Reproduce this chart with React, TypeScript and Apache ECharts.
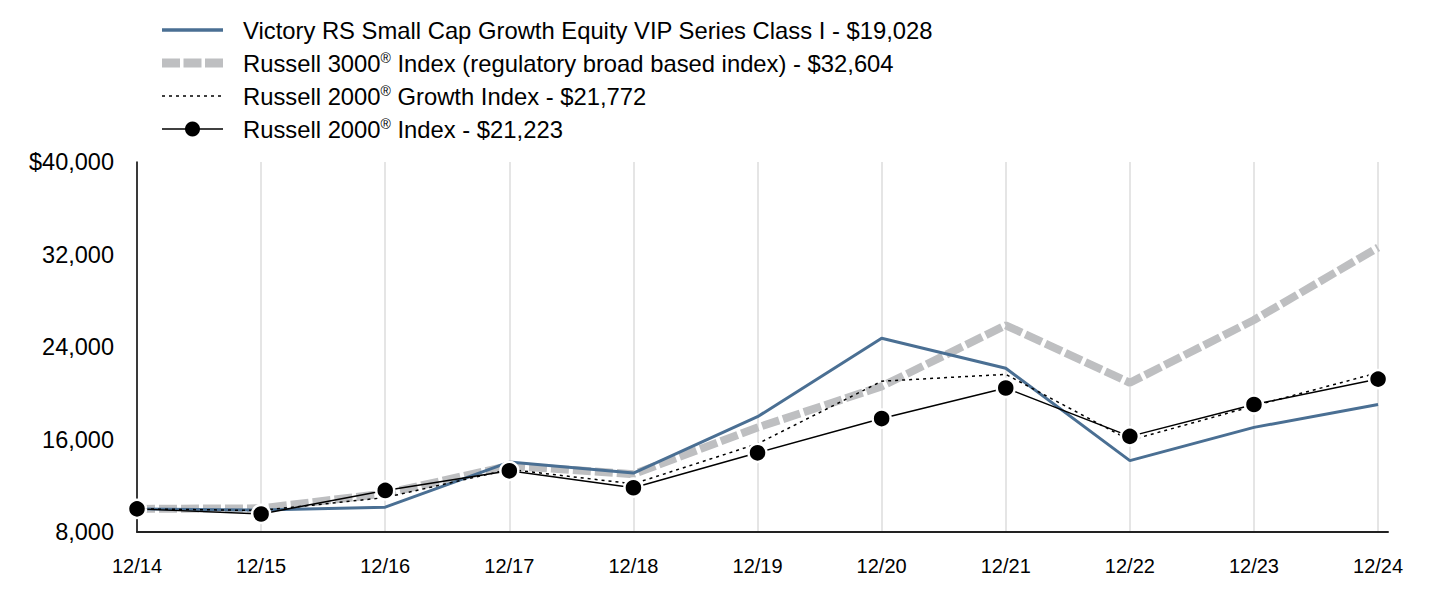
import React, { useEffect, useRef } from "react";
import * as echarts from "echarts";

const categories = ["12/14", "12/15", "12/16", "12/17", "12/18", "12/19", "12/20", "12/21", "12/22", "12/23", "12/24"];
const victory = [10000, 9900, 10150, 14050, 13100, 17970, 24750, 22160, 14170, 17050, 19028];
const russell3000 = [10000, 10048, 11328, 13722, 13003, 17036, 20595, 25880, 20908, 26336, 32604];
const russell2000Growth = [10000, 9862, 10979, 13413, 12164, 15628, 21040, 21636, 15932, 18905, 21772];
const russell2000 = [10000, 9559, 11594, 13293, 11829, 14848, 17811, 20451, 16271, 19026, 21223];
const yTicks = [8000, 16000, 24000, 32000, 40000];

const legendNames = [
  "Victory RS Small Cap Growth Equity VIP Series Class I - $19,028",
  "Russell 3000{sup|®} Index (regulatory broad based index) - $32,604",
  "Russell 2000{sup|®} Growth Index - $21,772",
  "Russell 2000{sup|®} Index - $21,223",
];

const BLUE = "#4a6f93";
const GRAY = "#bebfc1";
const FONT = "'Liberation Sans', Arial, sans-serif";

const toPairs = (arr: number[]) => arr.map((v, i) => [i, v]);

export default function App() {
  const ref = useRef<HTMLDivElement>(null);
  useEffect(() => {
    if (!ref.current) return;
    const chart = echarts.init(ref.current, null, { renderer: "svg" });
    const legendX = 162;
    const legendW = 61;
    const textX = 243;
    const rowsY = [30, 63, 96, 129];
    const legendGraphics: any[] = [];
    legendGraphics.push({ type: "line", shape: { x1: legendX, y1: rowsY[0], x2: legendX + legendW, y2: rowsY[0] }, style: { stroke: BLUE, lineWidth: 3.5 } });
    legendGraphics.push({ type: "line", shape: { x1: legendX, y1: rowsY[1], x2: legendX + legendW, y2: rowsY[1] }, style: { stroke: GRAY, lineWidth: 9, lineDash: [18, 3.5] } });
    legendGraphics.push({ type: "line", shape: { x1: legendX, y1: rowsY[2], x2: legendX + legendW, y2: rowsY[2] }, style: { stroke: "#000", lineWidth: 1.5, lineDash: [3, 4] } });
    legendGraphics.push({ type: "line", shape: { x1: legendX, y1: rowsY[3], x2: legendX + legendW, y2: rowsY[3] }, style: { stroke: "#000", lineWidth: 1.5 } });
    legendGraphics.push({ type: "circle", shape: { cx: legendX + legendW / 2, cy: rowsY[3], r: 7.5 }, style: { fill: "#000" } });
    legendNames.forEach((name, i) => {
      legendGraphics.push({
        type: "text",
        x: textX,
        y: rowsY[i],
        style: {
          text: name,
          fill: "#000",
          fontSize: 23.8,
          fontFamily: FONT,
          verticalAlign: "middle",
          align: "left",
          rich: { sup: { fontSize: 14, fontFamily: FONT, verticalAlign: "top", fill: "#000" } },
        },
      });
    });

    const splitColors = categories.map(() => "#dddddd").concat(["rgba(0,0,0,0)"]);

    chart.setOption({
      animation: false,
      grid: { left: 137, right: 48, top: 162, bottom: 66, containLabel: false },
      xAxis: {
        type: "value",
        min: 0,
        max: 10.08,
        interval: 1,
        axisLine: { show: true, lineStyle: { color: "#222", width: 2 } },
        axisTick: { show: false },
        splitLine: { show: true, lineStyle: { color: splitColors, width: 1.5 } },
        axisLabel: {
          margin: 24,
          fontSize: 20,
          fontFamily: FONT,
          color: "#000",
          showMaxLabel: false,
          formatter: (v: number) => {
            const i = Math.round(v);
            return Math.abs(v - i) < 1e-6 && categories[i] ? categories[i] : "";
          },
        },
      },
      yAxis: {
        type: "value",
        min: yTicks[0],
        max: yTicks[yTicks.length - 1],
        interval: 8000,
        axisLine: { show: true, lineStyle: { color: "#000", width: 1.5 } },
        axisTick: { show: false },
        splitLine: { show: false },
        axisLabel: {
          margin: 23,
          fontSize: 23.5,
          fontFamily: FONT,
          color: "#000",
          formatter: (v: number) => (v === yTicks[yTicks.length - 1] ? "$" : "") + v.toLocaleString("en-US"),
        },
      },
      series: [
        {
          name: "Russell 3000",
          type: "line",
          data: toPairs(russell3000),
          symbol: "none",
          lineStyle: { color: GRAY, width: 8, type: [18, 4] },
          z: 1,
        },
        {
          name: "Victory",
          type: "line",
          data: toPairs(victory),
          symbol: "none",
          lineStyle: { color: BLUE, width: 3 },
          z: 2,
        },
        {
          name: "Russell 2000 Growth",
          type: "line",
          data: toPairs(russell2000Growth),
          symbol: "none",
          lineStyle: { color: "#000", width: 1.5, type: [3, 4] },
          z: 3,
        },
        {
          name: "Russell 2000",
          type: "line",
          data: toPairs(russell2000),
          symbol: "circle",
          symbolSize: 18,
          itemStyle: { color: "#000", borderColor: "#fff", borderWidth: 2.5 },
          lineStyle: { color: "#000", width: 1.5 },
          z: 4,
        },
      ],
      graphic: legendGraphics,
    });
    return () => chart.dispose();
  }, []);
  return <div ref={ref} style={{ position: "absolute", left: 0, top: 0, width: 1436, height: 598 }} />;
}
